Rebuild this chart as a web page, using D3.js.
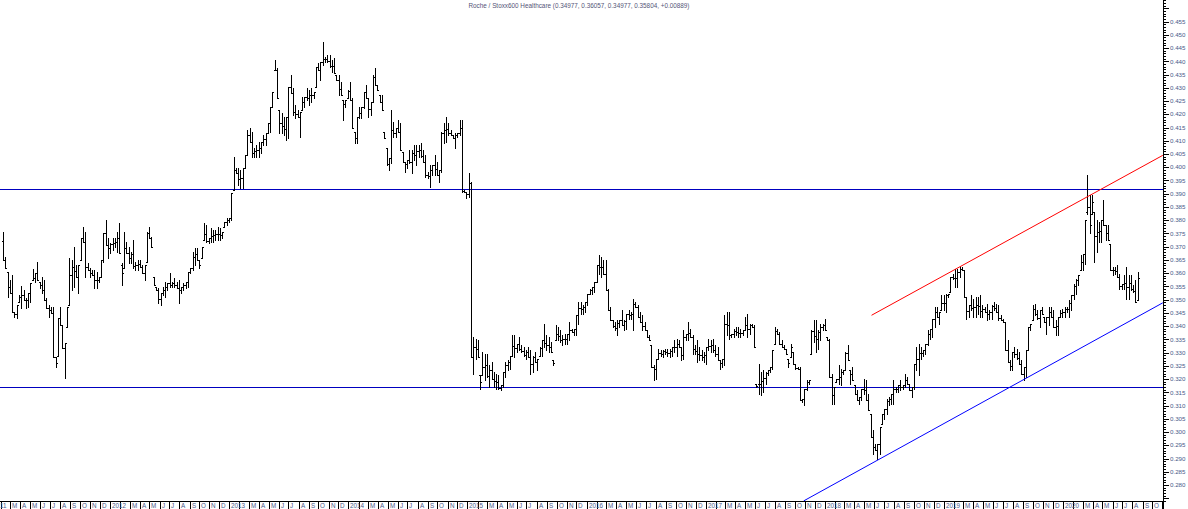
<!DOCTYPE html>
<html><head><meta charset="utf-8">
<script src="https://cdn.jsdelivr.net/npm/d3@7/dist/d3.min.js"></script>
<style>body{margin:0;background:#fff}svg{display:block}text{font-family:"Liberation Sans",Arial,sans-serif}</style>
</head><body><svg id="c" width="1188" height="509"></svg>
<script>
const titleText = "Roche / Stoxx600 Healthcare (0.34977, 0.36057, 0.34977, 0.35804, +0.00889)";
const firstWeek = "2011-02-07";
const opens = [
.3720,.3649,.3603,.3549,.3524,.3452,.3445,.3490,.3509,.3516,
.3497,.3498,.3524,.3573,.3582,.3599,.3565,.3554,.3535,.3497,
.3467,.3460,.3448,.3282,.3289,.3429,.3403,.3316,.3395,.3478,
.3592,.3622,.3607,.3584,.3649,.3731,.3716,.3624,.3611,.3602,
.3592,.3573,.3575,.3584,.3649,.3750,.3705,.3694,.3709,.3715,
.3717,.3732,.3630,.3618,.3696,.3675,.3658,.3671,.3626,.3630,
.3636,.3622,.3602,.3641,.3752,.3731,.3584,.3546,.3535,.3501,
.3524,.3537,.3549,.3562,.3556,.3563,.3554,.3543,.3535,.3546,
.3554,.3565,.3603,.3618,.3662,.3672,.3649,.3656,.3724,.3749,
.3722,.3731,.3739,.3743,.3749,.3747,.3743,.3773,.3792,.3800,
.3807,.3913,.3990,.3980,.3955,.3958,.3996,.4045,.4121,.4094,
.4055,.4060,.4066,.4074,.4094,.4106,.4128,.4166,.4227,.4367,
.4367,.4215,.4166,.4155,.4146,.4189,.4302,.4280,.4210,.4202,
.4189,.4215,.4246,.4264,.4263,.4272,.4272,.4302,.4378,.4367,
.4397,.4407,.4410,.4401,.4382,.4384,.4348,.4329,.4297,.4253,
.4240,.4261,.4287,.4253,.4132,.4110,.4189,.4206,.4227,.4283,
.4261,.4221,.4245,.4342,.4310,.4272,.4245,.4132,.4072,.4012,
.4034,.4142,.4130,.4147,.4132,.4057,.4019,.4012,.4027,.4021,
.4055,.4046,.4060,.4064,.4042,.4019,.3970,.3966,.3989,.4008,
.3995,.3970,.3989,.4128,.4142,.4144,.4131,.4121,.4109,.4120,
.4128,.4150,.3909,.3905,.3900,.3940,.3285,.3320,.3315,.3214,
.3214,.3246,.3252,.3211,.3233,.3201,.3192,.3189,.3167,.3176,
.3226,.3252,.3264,.3289,.3324,.3318,.3333,.3315,.3305,.3292,
.3302,.3283,.3258,.3283,.3264,.3289,.3318,.3346,.3337,.3330,
.3321,.3271,.3346,.3372,.3362,.3346,.3353,.3353,.3372,.3384,
.3378,.3390,.3441,.3469,.3463,.3472,.3491,.3522,.3535,.3547,
.3566,.3630,.3623,.3624,.3598,.3535,.3460,.3422,.3400,.3394,
.3410,.3422,.3403,.3419,.3444,.3441,.3444,.3482,.3472,.3434,
.3415,.3400,.3384,.3358,.3327,.3245,.3239,.3276,.3299,.3296,
.3306,.3302,.3299,.3305,.3321,.3321,.3334,.3321,.3290,.3359,
.3372,.3374,.3358,.3312,.3305,.3296,.3290,.3283,.3290,.3321,
.3324,.3327,.3308,.3296,.3271,.3261,.3276,.3409,.3403,.3365,
.3372,.3381,.3378,.3374,.3375,.3384,.3403,.3391,.3403,.3397,
.3182,.3182,.3182,.3192,.3204,.3224,.3233,.3245,.3334,.3381,
.3372,.3334,.3321,.3315,.3276,.3283,.3302,.3258,.3242,.3239,
.3120,.3126,.3164,.3189,.3296,.3381,.3362,.3350,.3378,.3397,
.3406,.3358,.3346,.3207,.3139,.3189,.3201,.3208,.3226,.3233,
.3299,.3233,.3220,.3176,.3145,.3120,.3132,.3164,.3158,.3120,
.3070,.2981,.2944,.2931,.2956,.3032,.3070,.3088,.3117,.3126,
.3145,.3161,.3164,.3176,.3170,.3176,.3195,.3182,.3157,.3170,
.3258,.3274,.3299,.3299,.3308,.3334,.3371,.3390,.3428,.3453,
.3434,.3460,.3488,.3488,.3516,.3528,.3585,.3582,.3582,.3604,
.3617,.3611,.3510,.3456,.3478,.3469,.3472,.3479,.3475,.3456,
.3463,.3454,.3444,.3453,.3476,.3469,.3453,.3432,.3422,.3415,
.3308,.3264,.3250,.3302,.3296,.3280,.3258,.3220,.3245,.3308,
.3397,.3422,.3463,.3444,.3429,.3460,.3434,.3415,.3434,.3453,
.3434,.3397,.3400,.3434,.3450,.3453,.3463,.3466,.3488,.3516,
.3551,.3573,.3611,.3643,.3674,.3830,.3850,.3825,.3832,.3740,
.3757,.3760,.3800,.3781,.3753,.3712,.3611,.3611,.3608,.3585,
.3551,.3560,.3564,.3548,.3564,.3541,.3532,.34977];
const highs = [
.3754,.3660,.3603,.3573,.3592,.3452,.3478,.3516,.3550,.3535,
.3505,.3524,.3562,.3614,.3599,.3641,.3565,.3584,.3573,.3505,
.3478,.3471,.3471,.3282,.3429,.3471,.3403,.3338,.3471,.3656,
.3649,.3698,.3630,.3630,.3731,.3773,.3754,.3637,.3618,.3611,
.3611,.3603,.3584,.3649,.3750,.3800,.3731,.3713,.3731,.3731,
.3754,.3788,.3637,.3754,.3716,.3698,.3679,.3724,.3641,.3649,
.3649,.3630,.3630,.3754,.3773,.3735,.3584,.3546,.3543,.3524,
.3546,.3565,.3562,.3599,.3565,.3580,.3565,.3573,.3546,.3562,
.3565,.3603,.3618,.3679,.3694,.3694,.3649,.3698,.3788,.3781,
.3731,.3769,.3762,.3762,.3773,.3769,.3754,.3792,.3807,.3807,
.3901,.4037,.3999,.3996,.3989,.3996,.4045,.4140,.4147,.4132,
.4072,.4083,.4094,.4094,.4121,.4128,.4166,.4227,.4283,.4405,
.4374,.4215,.4204,.4189,.4189,.4302,.4348,.4298,.4234,.4215,
.4208,.4264,.4264,.4298,.4291,.4298,.4283,.4378,.4393,.4397,
.4472,.4416,.4423,.4423,.4405,.4412,.4348,.4348,.4321,.4253,
.4253,.4291,.4321,.4261,.4132,.4189,.4227,.4227,.4283,.4310,
.4261,.4245,.4348,.4374,.4310,.4272,.4272,.4132,.4072,.4034,
.4215,.4170,.4147,.4178,.4166,.4057,.4019,.4027,.4064,.4064,
.4083,.4083,.4083,.4091,.4064,.4045,.3981,.4008,.4008,.4045,
.4019,.3989,.4132,.4166,.4189,.4166,.4140,.4121,.4128,.4128,
.4178,.4178,.3913,.3905,.3977,.3943,.3358,.3352,.3346,.3214,
.3302,.3296,.3296,.3252,.3264,.3226,.3219,.3214,.3176,.3226,
.3264,.3271,.3289,.3365,.3365,.3334,.3358,.3327,.3321,.3308,
.3321,.3308,.3289,.3302,.3276,.3321,.3346,.3409,.3365,.3358,
.3340,.3271,.3403,.3397,.3384,.3365,.3372,.3372,.3415,.3390,
.3390,.3441,.3491,.3491,.3478,.3491,.3522,.3541,.3547,.3566,
.3630,.3667,.3661,.3649,.3649,.3541,.3472,.3422,.3415,.3422,
.3422,.3460,.3422,.3447,.3460,.3453,.3504,.3491,.3478,.3453,
.3441,.3415,.3384,.3365,.3327,.3252,.3276,.3315,.3308,.3308,
.3315,.3315,.3315,.3321,.3346,.3352,.3346,.3321,.3384,.3372,
.3415,.3390,.3365,.3327,.3346,.3321,.3308,.3302,.3321,.3352,
.3346,.3352,.3327,.3321,.3271,.3276,.3441,.3453,.3453,.3372,
.3390,.3397,.3397,.3390,.3384,.3434,.3447,.3409,.3409,.3403,
.3182,.3258,.3226,.3233,.3226,.3233,.3245,.3308,.3397,.3390,
.3378,.3346,.3327,.3315,.3276,.3334,.3302,.3258,.3245,.3245,
.3126,.3164,.3195,.3195,.3384,.3422,.3422,.3384,.3409,.3409,
.3428,.3358,.3352,.3219,.3170,.3201,.3252,.3239,.3233,.3302,
.3327,.3233,.3245,.3176,.3157,.3132,.3164,.3201,.3195,.3145,
.3070,.3006,.2956,.2956,.3019,.3070,.3088,.3126,.3132,.3145,
.3195,.3170,.3176,.3195,.3176,.3219,.3207,.3182,.3170,.3258,
.3321,.3334,.3321,.3308,.3334,.3384,.3390,.3428,.3472,.3472,
.3453,.3516,.3516,.3522,.3522,.3585,.3598,.3617,.3617,.3623,
.3623,.3611,.3510,.3478,.3516,.3504,.3510,.3510,.3516,.3478,
.3472,.3485,.3460,.3478,.3491,.3485,.3478,.3441,.3428,.3415,
.3346,.3271,.3302,.3321,.3315,.3302,.3271,.3245,.3308,.3397,
.3409,.3478,.3485,.3460,.3460,.3472,.3434,.3434,.3472,.3472,
.3460,.3422,.3434,.3460,.3466,.3472,.3472,.3497,.3516,.3560,
.3579,.3592,.3667,.3674,.3800,.3970,.3894,.3894,.3832,.3800,
.3794,.3800,.3875,.3781,.3781,.3712,.3623,.3623,.3630,.3598,
.3560,.3592,.3623,.3592,.3592,.3554,.3573,.36057];
const lows = [
.3649,.3618,.3509,.3524,.3452,.3433,.3429,.3490,.3467,.3497,
.3467,.3471,.3490,.3573,.3565,.3573,.3543,.3524,.3497,.3467,
.3433,.3448,.3282,.3244,.3289,.3403,.3316,.3203,.3395,.3478,
.3535,.3546,.3584,.3524,.3649,.3716,.3584,.3611,.3584,.3592,
.3543,.3543,.3565,.3584,.3641,.3705,.3656,.3675,.3686,.3698,
.3679,.3675,.3554,.3618,.3675,.3637,.3637,.3618,.3611,.3611,
.3622,.3599,.3573,.3641,.3731,.3698,.3554,.3535,.3486,.3478,
.3516,.3509,.3535,.3546,.3546,.3546,.3543,.3486,.3524,.3535,
.3543,.3546,.3599,.3611,.3630,.3649,.3618,.3656,.3724,.3716,
.3713,.3716,.3716,.3724,.3724,.3724,.3731,.3773,.3781,.3792,
.3800,.3913,.3980,.3932,.3920,.3920,.3996,.4045,.4094,.4037,
.4037,.4037,.4037,.4053,.4083,.4083,.4128,.4132,.4227,.4367,
.4261,.4128,.4128,.4121,.4102,.4109,.4280,.4197,.4185,.4189,
.4113,.4215,.4227,.4253,.4234,.4245,.4261,.4302,.4367,.4329,
.4386,.4397,.4397,.4378,.4359,.4355,.4329,.4272,.4272,.4178,
.4227,.4261,.4253,.4147,.4091,.4091,.4185,.4185,.4223,.4261,
.4189,.4197,.4245,.4310,.4291,.4245,.4215,.4109,.4008,.3989,
.4015,.4113,.4113,.4132,.4064,.4019,.3981,.3996,.4015,.3977,
.4027,.4008,.4037,.4037,.4019,.3962,.3958,.3924,.3970,.3970,
.3970,.3943,.3981,.4091,.4094,.4121,.4121,.4109,.4072,.4113,
.4121,.3905,.3905,.3883,.3886,.3282,.3219,.3276,.3283,.3164,
.3214,.3195,.3207,.3170,.3201,.3170,.3164,.3164,.3157,.3170,
.3207,.3233,.3239,.3289,.3283,.3302,.3308,.3302,.3289,.3276,
.3283,.3219,.3226,.3264,.3233,.3289,.3289,.3321,.3308,.3302,
.3302,.3252,.3346,.3346,.3340,.3327,.3334,.3334,.3346,.3378,
.3365,.3365,.3409,.3447,.3447,.3453,.3478,.3522,.3522,.3528,
.3566,.3598,.3585,.3598,.3535,.3460,.3422,.3397,.3384,.3365,
.3397,.3403,.3384,.3390,.3428,.3428,.3384,.3472,.3434,.3415,
.3384,.3384,.3358,.3346,.3245,.3195,.3201,.3276,.3289,.3283,
.3296,.3289,.3283,.3289,.3302,.3289,.3321,.3271,.3276,.3346,
.3346,.3358,.3296,.3296,.3264,.3271,.3271,.3264,.3258,.3308,
.3302,.3302,.3289,.3271,.3239,.3245,.3252,.3365,.3352,.3358,
.3358,.3365,.3358,.3358,.3365,.3384,.3358,.3372,.3397,.3321,
.3170,.3145,.3138,.3151,.3182,.3214,.3226,.3239,.3334,.3372,
.3334,.3321,.3315,.3296,.3245,.3283,.3258,.3239,.3239,.3120,
.3113,.3101,.3157,.3182,.3296,.3340,.3302,.3315,.3346,.3384,
.3384,.3346,.3207,.3107,.3107,.3189,.3182,.3176,.3219,.3233,
.3271,.3182,.3195,.3145,.3120,.3107,.3120,.3145,.3120,.3082,
.2981,.2918,.2931,.2899,.2918,.3032,.3051,.3070,.3101,.3107,
.3107,.3151,.3151,.3157,.3164,.3170,.3182,.3157,.3132,.3164,
.3233,.3214,.3276,.3289,.3296,.3327,.3352,.3358,.3397,.3434,
.3409,.3460,.3460,.3453,.3510,.3528,.3579,.3547,.3547,.3585,
.3611,.3510,.3428,.3434,.3460,.3434,.3434,.3447,.3434,.3434,
.3453,.3422,.3428,.3428,.3460,.3453,.3422,.3422,.3415,.3308,
.3264,.3233,.3233,.3283,.3276,.3258,.3219,.3195,.3207,.3308,
.3384,.3422,.3441,.3428,.3397,.3447,.3415,.3372,.3403,.3434,
.3397,.3365,.3365,.3434,.3434,.3434,.3453,.3434,.3460,.3504,
.3522,.3554,.3611,.3611,.3636,.3825,.3750,.3825,.3642,.3680,
.3719,.3719,.3781,.3724,.3724,.3611,.3592,.3598,.3585,.3541,
.3541,.3541,.3504,.3504,.3535,.3528,.3491,.34977];
const closes = [
.3649,.3618,.3549,.3524,.3452,.3445,.3478,.3509,.3516,.3497,
.3498,.3524,.3562,.3582,.3599,.3573,.3554,.3535,.3497,.3467,
.3460,.3448,.3282,.3260,.3429,.3403,.3316,.3338,.3471,.3592,
.3622,.3607,.3584,.3630,.3731,.3716,.3624,.3611,.3602,.3592,
.3573,.3575,.3584,.3649,.3750,.3705,.3694,.3709,.3715,.3717,
.3732,.3675,.3600,.3696,.3675,.3658,.3671,.3626,.3630,.3636,
.3622,.3602,.3630,.3752,.3731,.3698,.3554,.3535,.3501,.3524,
.3537,.3549,.3562,.3556,.3563,.3554,.3543,.3535,.3546,.3554,
.3565,.3603,.3618,.3662,.3672,.3649,.3630,.3698,.3749,.3722,
.3731,.3739,.3743,.3749,.3747,.3743,.3754,.3792,.3800,.3807,
.3901,.3990,.3980,.3955,.3958,.3996,.4045,.4121,.4094,.4055,
.4060,.4066,.4074,.4094,.4106,.4128,.4166,.4227,.4283,.4367,
.4261,.4166,.4155,.4146,.4189,.4302,.4280,.4210,.4202,.4189,
.4208,.4246,.4264,.4263,.4272,.4272,.4283,.4378,.4367,.4397,
.4407,.4410,.4401,.4382,.4384,.4355,.4329,.4297,.4272,.4240,
.4253,.4287,.4253,.4147,.4110,.4189,.4206,.4227,.4283,.4261,
.4221,.4245,.4342,.4310,.4291,.4245,.4215,.4109,.4012,.4034,
.4142,.4130,.4147,.4132,.4064,.4019,.4012,.4027,.4021,.4055,
.4046,.4060,.4064,.4042,.4019,.3970,.3966,.3989,.4008,.3995,
.3970,.3989,.4128,.4142,.4144,.4131,.4121,.4109,.4120,.4128,
.4150,.3909,.3905,.3900,.3940,.3285,.3320,.3315,.3283,.3190,
.3246,.3252,.3211,.3233,.3201,.3192,.3189,.3167,.3176,.3226,
.3252,.3264,.3289,.3324,.3318,.3333,.3315,.3305,.3292,.3302,
.3283,.3258,.3283,.3264,.3276,.3318,.3346,.3337,.3330,.3321,
.3302,.3260,.3372,.3362,.3346,.3353,.3353,.3372,.3384,.3378,
.3390,.3441,.3469,.3463,.3472,.3491,.3522,.3535,.3547,.3566,
.3630,.3623,.3624,.3598,.3535,.3460,.3422,.3400,.3394,.3410,
.3422,.3403,.3419,.3444,.3441,.3444,.3482,.3472,.3434,.3415,
.3400,.3384,.3358,.3346,.3245,.3239,.3276,.3299,.3296,.3306,
.3302,.3299,.3305,.3321,.3321,.3334,.3321,.3290,.3359,.3372,
.3374,.3358,.3312,.3305,.3296,.3290,.3283,.3290,.3321,.3324,
.3327,.3308,.3296,.3271,.3261,.3276,.3409,.3403,.3365,.3372,
.3381,.3378,.3374,.3375,.3384,.3403,.3391,.3403,.3397,.3321,
.3175,.3182,.3192,.3204,.3224,.3233,.3245,.3308,.3381,.3372,
.3334,.3321,.3315,.3296,.3260,.3320,.3258,.3242,.3239,.3120,
.3126,.3164,.3189,.3195,.3381,.3362,.3350,.3378,.3397,.3406,
.3384,.3346,.3207,.3139,.3170,.3201,.3208,.3226,.3233,.3299,
.3271,.3220,.3195,.3145,.3120,.3132,.3164,.3158,.3120,.3082,
.2981,.2944,.2931,.2956,.3019,.3070,.3088,.3117,.3126,.3145,
.3161,.3164,.3176,.3170,.3176,.3195,.3182,.3157,.3170,.3258,
.3274,.3299,.3299,.3308,.3334,.3371,.3390,.3428,.3453,.3434,
.3453,.3488,.3488,.3516,.3522,.3585,.3582,.3582,.3604,.3617,
.3611,.3510,.3456,.3478,.3469,.3472,.3479,.3475,.3456,.3463,
.3454,.3444,.3453,.3476,.3469,.3453,.3432,.3422,.3415,.3308,
.3264,.3250,.3302,.3296,.3280,.3258,.3220,.3245,.3308,.3397,
.3409,.3463,.3444,.3429,.3460,.3447,.3415,.3434,.3453,.3434,
.3397,.3400,.3434,.3450,.3453,.3463,.3466,.3488,.3516,.3551,
.3573,.3592,.3643,.3674,.3800,.3850,.3780,.3870,.3740,.3757,
.3760,.3800,.3781,.3753,.3724,.3611,.3611,.3608,.3585,.3551,
.3560,.3564,.3548,.3564,.3541,.3532,.3492,.35804];
const levelLines = [0.3917, 0.3169];
const redTrend = [["2018-05-24", 0.3441], ["2020-11-02", 0.4045]];
const blueTrend = [["2017-10-28", 0.2740], ["2020-11-02", 0.3488]];
const monthLetters = ["J","F","M","A","M","J","J","A","S","O","N","D"];

const svg = d3.select("#c");
const plotR = 1163, plotB = 501;
const x = d3.scaleUtc().domain([new Date("2011-01-28T17:00:00Z"), new Date("2020-11-02T14:00:00Z")]).range([0, plotR]);
const y = d3.scaleLinear().domain([0.280, 0.455]).range([485, 21.6]);
const axisCol = "#4a5a8a";

svg.append("rect").attr("width",1188).attr("height",509).attr("fill","#fff");
const defs = svg.append("defs");
defs.append("clipPath").attr("id","clip").append("rect").attr("x",0).attr("y",0).attr("width",plotR).attr("height",plotB);
defs.append("clipPath").attr("id","clipx").append("rect").attr("x",0).attr("y",plotB).attr("width",plotR+1).attr("height",509-plotB);
const plot = svg.append("g").attr("clip-path","url(#clip)");

// level lines
plot.selectAll("line.lvl").data(levelLines).enter().append("line")
  .attr("x1",0).attr("x2",plotR)
  .attr("y1",d=>Math.round(y(d))+0.5).attr("y2",d=>Math.round(y(d))+0.5)
  .attr("stroke","#0000c0").attr("stroke-width",1);

// bars
const t0 = new Date(firstWeek + "T00:00:00Z");
const bars = highs.map((h,i)=>({d:d3.utcDay.offset(t0,7*i),o:opens[i],h:h,l:lows[i],c:closes[i]}));
const pathStr = bars.map(b=>{
  const px = Math.round(x(b.d)) + 0.5;
  const yh = Math.round(y(b.h)), yl = Math.round(y(b.l));
  const yo = Math.round(y(b.o)) + 0.5, yc = Math.round(y(b.c)) + 0.5;
  return `M${px},${yh}V${Math.max(yl+1,yh+1)}M${px-1.5},${yo}H${px}M${px},${yc}H${px+1.5}`;
}).join("");
plot.append("path").attr("d",pathStr).attr("stroke","#000").attr("stroke-width",1).attr("fill","none").attr("shape-rendering","crispEdges");

// trend lines
const tl = d3.line().x(d=>x(new Date(d[0]+"T00:00:00Z"))).y(d=>y(d[1]));
plot.append("path").attr("d",tl(redTrend)).attr("stroke","#ff0000").attr("fill","none").attr("stroke-width",1);
plot.append("path").attr("d",tl(blueTrend)).attr("stroke","#0000ff").attr("fill","none").attr("stroke-width",1);

// right axis
const ax = svg.append("g");
ax.append("line").attr("x1",plotR+0.5).attr("x2",plotR+0.5).attr("y1",0).attr("y2",509).attr("stroke","#000");
const minor = d3.range(274,464).map(v=>v/1000);
ax.selectAll("line.mn").data(minor).enter().append("line")
  .attr("x1",plotR).attr("x2",d=>plotR + (Math.round(d*1000)%5===0?6:3))
  .attr("y1",d=>Math.round(y(d))+0.5).attr("y2",d=>Math.round(y(d))+0.5)
  .attr("stroke","#000");
const major = d3.range(280,456,5).map(v=>v/1000);
ax.selectAll("text.yl").data(major).enter().append("text")
  .attr("x",plotR+7).attr("y",d=>y(d)+2.2)
  .attr("font-size","6.2px").attr("fill",axisCol)
  .text(d3.format(".3f"));

// bottom axis
const bx = svg.append("g");
bx.append("line").attr("x1",0).attr("x2",plotR).attr("y1",plotB+0.5).attr("y2",plotB+0.5).attr("stroke","#000");
const months = d3.utcMonth.range(new Date("2011-01-01T00:00:00Z"), new Date("2020-11-03T00:00:00Z"));
months.forEach(m=>{
  const px = Math.round(x(m)) + 0.5;
  if (px < 0 || px > plotR) return;
  bx.append("line").attr("x1",px).attr("x2",px).attr("y1",plotB).attr("y2",509).attr("stroke","#000");
});
const bl = bx.append("g").attr("clip-path","url(#clipx)");
months.forEach(m=>{
  const mo = m.getUTCMonth();
  if (mo === 1) return;
  const px = Math.round(x(m)) + 2;
  bl.append("text").attr("x",px).attr("y",507.5).attr("font-size","6.3px").attr("fill",axisCol)
    .text(mo===0 ? String(m.getUTCFullYear()) : monthLetters[mo]);
});

// title
svg.append("text").attr("x",579).attr("y",8).attr("text-anchor","middle")
  .attr("font-size","6.35px").attr("fill","#555577").text(titleText);
</script></body></html>
